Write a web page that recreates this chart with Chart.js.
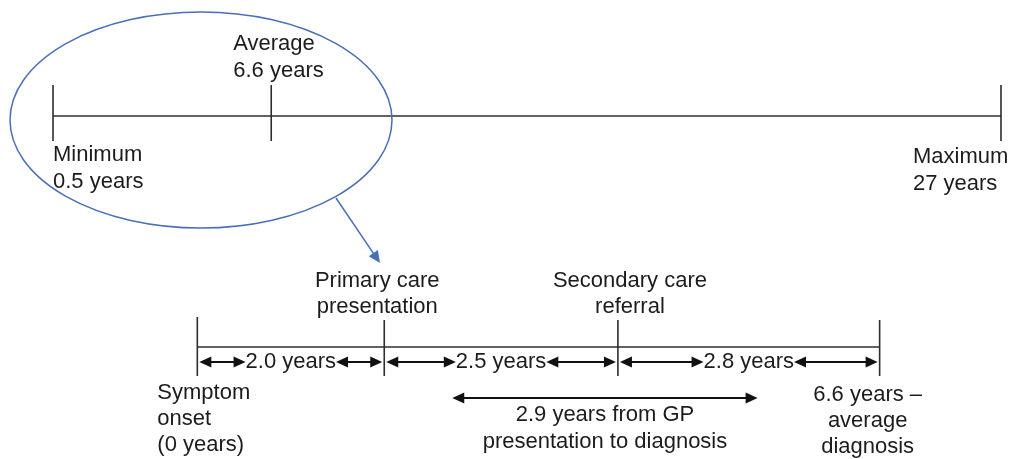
<!DOCTYPE html>
<html>
<head>
<meta charset="utf-8">
<script src="https://cdn.jsdelivr.net/npm/chart.js@4.4.0/dist/chart.umd.min.js"></script>
<style>
    html, body { margin: 0; padding: 0; background: #fff; }
    canvas { display: block; }
</style>
</head>
<body>
<canvas id="timeline" width="1009" height="459"></canvas>
<script>
// overall range of time to diagnosis (years)
var rangeLabels = [['Minimum', '0.5 years'], ['Average', '6.6 years'], ['Maximum', '27 years']]
var rangeValues = [0.5, 6.6, 27]

// pathway stages and the time between them (years)
var stageLabels = [['Symptom', 'onset', '(0 years)'], ['Primary care', 'presentation'], ['Secondary care', 'referral'], ['6.6 years \u2013', 'average', 'diagnosis']]
var stageGaps = [2.0, 2.5, 2.8]
var gapLabels = ['2.0 years', '2.5 years', '2.8 years']
var gpLabel = ['2.9 years from GP', 'presentation to diagnosis']

var stageValues = [0]
for (var i = 0; i < stageGaps.length; i++) {
    stageValues.push(Math.round((stageValues[i] + stageGaps[i]) * 10) / 10)
}

var lineColor = '#2e2e2e'
var textColor = '#1c1c1c'
var blue = '#4a6fb5'
var font = '22px "Liberation Sans", Arial, sans-serif'

var topY = 116
var bottomY = 347

var datasets = []

function segment(axis, points, width) {
    datasets.push({
        xAxisID: axis,
        data: points,
        borderColor: lineColor,
        borderWidth: width || 1.6,
        pointRadius: 0,
        fill: false
    })
}

segment('x', [{ x: rangeValues[0], y: topY }, { x: rangeValues[rangeValues.length - 1], y: topY }])
rangeValues.forEach(function (v) {
    segment('x', [{ x: v, y: 85 }, { x: v, y: 141 }])
})

segment('x2', [{ x: stageValues[0], y: bottomY }, { x: stageValues[stageValues.length - 1], y: bottomY }])
stageValues.forEach(function (v, i) {
    segment('x2', [{ x: v, y: i === 0 ? 317 : 320 }, { x: v, y: 376 }])
})

function arrowHead(ctx, x, y, dir) {
    ctx.beginPath()
    ctx.moveTo(x, y)
    ctx.lineTo(x - dir * 12, y - 5.5)
    ctx.lineTo(x - dir * 12, y + 5.5)
    ctx.closePath()
    ctx.fill()
}

function doubleArrow(ctx, x1, x2, y) {
    ctx.beginPath()
    ctx.moveTo(x1 + 6, y)
    ctx.lineTo(x2 - 6, y)
    ctx.stroke()
    arrowHead(ctx, x1, y, -1)
    arrowHead(ctx, x2, y, 1)
}

function lines(ctx, list, x, y, step, align) {
    ctx.textAlign = align
    list.forEach(function (t, i) {
        ctx.fillText(t, x, y + i * step)
    })
}

var annotations = {
    id: 'annotations',
    afterDatasetsDraw: function (chart) {
        var ctx = chart.ctx
        var sx = chart.scales.x
        var sb = chart.scales.x2
        ctx.save()

        // highlight ellipse and pointer
        ctx.strokeStyle = blue
        ctx.fillStyle = blue
        ctx.lineWidth = 1.5
        ctx.beginPath()
        ctx.ellipse(201, 120, 191, 108, 0, 0, Math.PI * 2)
        ctx.stroke()
        var ax1 = 336, ay1 = 198, ax2 = 380, ay2 = 263
        var ang = Math.atan2(ay2 - ay1, ax2 - ax1)
        ctx.beginPath()
        ctx.moveTo(ax1, ay1)
        ctx.lineTo(ax2 - 9 * Math.cos(ang), ay2 - 9 * Math.sin(ang))
        ctx.stroke()
        ctx.beginPath()
        ctx.moveTo(ax2, ay2)
        ctx.lineTo(ax2 - 12 * Math.cos(ang) + 5.5 * Math.sin(ang), ay2 - 12 * Math.sin(ang) - 5.5 * Math.cos(ang))
        ctx.lineTo(ax2 - 12 * Math.cos(ang) - 5.5 * Math.sin(ang), ay2 - 12 * Math.sin(ang) + 5.5 * Math.cos(ang))
        ctx.closePath()
        ctx.fill()

        ctx.font = font
        ctx.fillStyle = textColor
        ctx.textBaseline = 'middle'

        // top range labels
        lines(ctx, rangeLabels[0], sx.getPixelForValue(rangeValues[0]), 155, 27, 'left')
        lines(ctx, rangeLabels[1], sx.getPixelForValue(rangeValues[1]) - 38, 44, 27, 'left')
        lines(ctx, rangeLabels[2], sx.getPixelForValue(rangeValues[2]) - 88, 157, 27, 'left')

        // stage labels
        lines(ctx, stageLabels[0], sb.getPixelForValue(stageValues[0]) - 40, 393, 26, 'left')
        lines(ctx, stageLabels[1], sb.getPixelForValue(stageValues[1]) - 7, 281, 26, 'center')
        lines(ctx, stageLabels[2], sb.getPixelForValue(stageValues[2]) + 12, 281, 26, 'center')
        lines(ctx, stageLabels[3], sb.getPixelForValue(stageValues[3]) - 12, 395, 26, 'center')

        // gap arrows
        ctx.strokeStyle = '#111'
        ctx.lineWidth = 2
        var arrowY = 362
        for (var i = 0; i < gapLabels.length; i++) {
            var a = sb.getPixelForValue(stageValues[i])
            var b = sb.getPixelForValue(stageValues[i + 1])
            var m = (a + b) / 2
            var w = ctx.measureText(gapLabels[i]).width
            ctx.fillStyle = '#111'
            doubleArrow(ctx, a + 2, m - w / 2, arrowY)
            doubleArrow(ctx, m + w / 2, b - 2, arrowY)
            ctx.fillStyle = textColor
            ctx.textAlign = 'center'
            ctx.fillText(gapLabels[i], m, arrowY)
        }

        // GP presentation to diagnosis
        var g1 = sb.getPixelForValue(stageValues[1]) + 68
        var g2 = sb.getPixelForValue(stageValues[3]) - 122
        ctx.fillStyle = '#111'
        doubleArrow(ctx, g1, g2, 398)
        ctx.fillStyle = textColor
        lines(ctx, gpLabel, (g1 + g2) / 2, 415, 27, 'center')

        ctx.restore()
    }
}

var timelineChart = new Chart(document.getElementById('timeline'), {
    type: 'line',
    data: { datasets: datasets },
    options: {
        responsive: false,
        animation: false,
        events: [],
        layout: { padding: 0 },
        plugins: { legend: { display: false }, tooltip: { enabled: false } },
        scales: {
            x: { type: 'linear', display: false, min: -0.982, max: 27.224 },
            x2: { type: 'linear', display: false, min: -2.111, max: 8.684 },
            y: { type: 'linear', display: false, min: 0, max: 459, reverse: true }
        }
    },
    plugins: [annotations]
})
</script>
</body>
</html>
